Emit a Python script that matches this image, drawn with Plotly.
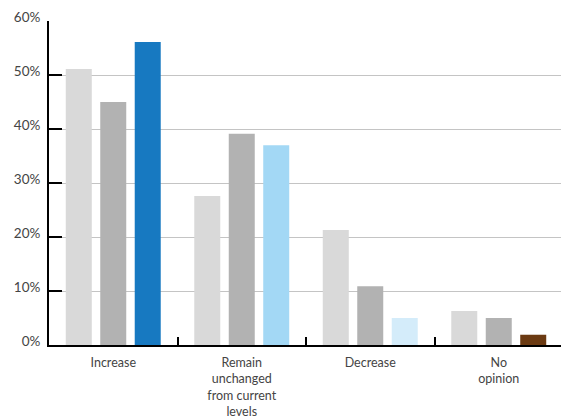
import plotly.graph_objects as go

categories = ["Increase", "Remain<br>unchanged<br>from current<br>levels", "Decrease", "No<br>opinion"]
series1 = [51.1, 27.6, 21.3, 6.3]
series2 = [45.0, 39.1, 10.9, 5.0]
series3 = [56.1, 37.0, 5.0, 1.9]
series3_colors = ["#1779c1", "#a3d8f5", "#d4ecfa", "#6b3a12"]
y_ticks = [0, 10, 20, 30, 40, 50, 60]
y_tick_labels = ["0%", "10%", "20%", "30%", "40%", "50%", "60%"]

fig = go.Figure()
fig.add_trace(go.Bar(x=categories, y=series1, marker_color="#d9d9d9", marker_line_width=0))
fig.add_trace(go.Bar(x=categories, y=series2, marker_color="#b2b2b2", marker_line_width=0))
fig.add_trace(go.Bar(x=categories, y=series3, marker_color=series3_colors, marker_line_width=0))

font_family = "Lato, Noto Sans, sans-serif"
fig.update_layout(
    width=561, height=408,
    margin=dict(l=41, r=6, t=13, b=71),
    paper_bgcolor="white", plot_bgcolor="white",
    barmode="group", bargap=0.195, bargroupgap=0.246,
    showlegend=False,
    font=dict(family=font_family, size=12.5, color="#444444"),
)
fig.update_xaxes(
    automargin=False,
    showline=True, linecolor="black", linewidth=2,
    ticks="inside", tickson="boundaries", ticklen=8, tickwidth=2, tickcolor="black",
    showgrid=False, tickfont=dict(size=12.5, color="#444444"),
    ticklabelstandoff=5,
)
fig.update_yaxes(
    automargin=False,
    range=[0, 60], tickvals=y_ticks, ticktext=y_tick_labels,
    showline=True, linecolor="black", linewidth=2,
    ticks="inside", ticklen=13, tickwidth=2, tickcolor="black",
    showgrid=True, gridcolor="#c4c4c4", gridwidth=1,
    zeroline=False, tickfont=dict(size=13.5, color="#444444"),
    ticklabelstandoff=4, ticklabelshift=-4,
)
fig.write_html("out.html")
